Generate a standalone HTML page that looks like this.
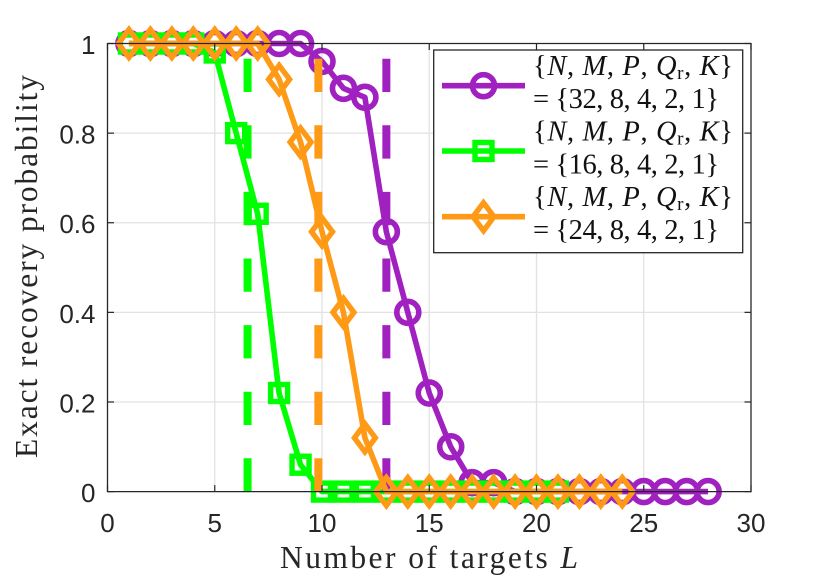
<!DOCTYPE html>
<html>
<head>
<meta charset="utf-8">
<style>
html,body{margin:0;padding:0;background:#fff;}
svg{display:block;}
.tick{font-family:"Liberation Sans",sans-serif;font-size:26px;fill:#262626;}
.lab{font-family:"Liberation Serif",serif;font-size:31.5px;fill:#262626;}
.leg{font-family:"Liberation Serif",serif;font-size:28.5px;fill:#111;}
.leg .i{font-style:italic;}
</style>
</head>
<body>
<svg id="chart" width="830" height="581" viewBox="0 0 830 581" xmlns="http://www.w3.org/2000/svg">
  <g id="grid"></g>
  <g id="series"></g>
  <g id="axes"></g>
  <text class="lab" x="280" y="568" textLength="298" lengthAdjust="spacing">Number of targets <tspan font-style="italic">L</tspan></text>
  <text class="lab" transform="translate(37,458) rotate(-90)" x="0" y="0" textLength="383" lengthAdjust="spacing">Exact recovery probability</text>
  <g>
    <rect x="433.7" y="50" width="309" height="202.7" fill="#fff" stroke="#262626" stroke-width="1.3"/>
    <g id="legend-samples"></g>
    <text class="leg" x="533" y="75" textLength="200">{<tspan class="i">N</tspan>, <tspan class="i">M</tspan>, <tspan class="i">P</tspan>, <tspan class="i">Q</tspan><tspan font-size="19" dy="4">r</tspan><tspan dy="-4">, </tspan><tspan class="i">K</tspan>}</text>
    <text class="leg" x="533" y="108" textLength="186">= {32, 8, 4, 2, 1}</text>
    <text class="leg" x="533" y="140.5" textLength="200">{<tspan class="i">N</tspan>, <tspan class="i">M</tspan>, <tspan class="i">P</tspan>, <tspan class="i">Q</tspan><tspan font-size="19" dy="4">r</tspan><tspan dy="-4">, </tspan><tspan class="i">K</tspan>}</text>
    <text class="leg" x="533" y="173.5" textLength="186">= {16, 8, 4, 2, 1}</text>
    <text class="leg" x="533" y="206" textLength="200">{<tspan class="i">N</tspan>, <tspan class="i">M</tspan>, <tspan class="i">P</tspan>, <tspan class="i">Q</tspan><tspan font-size="19" dy="4">r</tspan><tspan dy="-4">, </tspan><tspan class="i">K</tspan>}</text>
    <text class="leg" x="533" y="239" textLength="186">= {24, 8, 4, 2, 1}</text>
  </g>
</svg>
<script>
const xTicks = [0, 5, 10, 15, 20, 25, 30];
const yTicks = [0, 0.2, 0.4, 0.6, 0.8, 1];
const xTickLabels = ['0', '5', '10', '15', '20', '25', '30'];
const yTickLabels = ['0', '0.2', '0.4', '0.6', '0.8', '1'];
const targetsPurple = [1,2,3,4,5,6,7,8,9,10,11,12,13,14,15,16,17,18,19,20,21,22,23,24,25,26,27,28];
const valuesPurple = [1,1,1,1,1,1,1,1,1,0.96,0.9,0.88,0.58,0.4,0.22,0.1,0.02,0.02,0,0,0,0,0,0,0,0,0,0];
const targetsGreen = [1,2,3,4,5,6,7,8,9,10,11,12,13,14,15,16,17,18,19,20,21];
const valuesGreen = [1,1,1,1,0.98,0.8,0.62,0.22,0.06,0,0,0,0,0,0,0,0,0,0,0,0];
const targetsOrange = [1,2,3,4,5,6,7,8,9,10,11,12,13,14,15,16,17,18,19,20,21,22,23,24];
const valuesOrange = [1,1,1,1,1,1,1,0.92,0.78,0.58,0.4,0.12,0,0,0,0,0,0,0,0,0,0,0,0];
const boundGreen = 6.53;
const boundOrange = 9.83;
const boundPurple = 13;

const PURPLE = '#a020c0', GREEN = '#00ff00', ORANGE = '#ff9a16', INK = '#262626', GRID = '#e2e2e2';
const L = 107.5, R = 751, T = 43.5, B = 491.6;
const xScale = v => L + (v / 30) * (R - L);
const yScale = v => B - v * (B - T);
const NS = 'http://www.w3.org/2000/svg';
function make(parent, tag, attrs) {
  const el = document.createElementNS(NS, tag);
  for (const k in attrs) el.setAttribute(k, attrs[k]);
  parent.appendChild(el);
  return el;
}
function seg(parent, x1, y1, x2, y2, color, w) {
  return make(parent, 'line', {x1, y1, x2, y2, stroke: color, 'stroke-width': w});
}
function marker(parent, kind, cx, cy, color) {
  let el;
  if (kind === 'circle') {
    el = make(parent, 'circle', {cx, cy, r: 11, fill: 'none', stroke: color, 'stroke-width': 5.6});
  } else if (kind === 'square') {
    el = make(parent, 'rect', {x: cx - 8.5, y: cy - 8.5, width: 17, height: 17, fill: 'none', stroke: color, 'stroke-width': 5.4});
  } else {
    const pts = [[cx, cy - 14], [cx + 10.5, cy], [cx, cy + 14], [cx - 10.5, cy]].map(p => p.join(',')).join(' ');
    el = make(parent, 'polygon', {points: pts, fill: 'none', stroke: color, 'stroke-width': 5.4, 'stroke-linejoin': 'miter'});
  }
  return el;
}

const gridG = document.getElementById('grid');
xTicks.forEach(t => {
  if (t === 0 || t === 30) return;
  const g = seg(gridG, xScale(t), T, xScale(t), B, GRID, 1.3);
  
  
});
yTicks.forEach(t => {
  if (t === 0 || t === 1) return;
  const g = seg(gridG, L, yScale(t), R, yScale(t), GRID, 1.3);
  
  
});

const axesG = document.getElementById('axes');
const frame = make(axesG, 'path', {d: 'M' + L + ' ' + T + 'H' + R + 'V' + B + 'H' + L + 'Z', fill: 'none', stroke: INK, 'stroke-width': 1.3});


xTicks.forEach((t, i) => {
  const a = seg(axesG, xScale(t), B, xScale(t), B - 6.5, INK, 1.2);
  
  
  const b = seg(axesG, xScale(t), T, xScale(t), T + 6.5, INK, 1.2);
  
  
  const lab = make(axesG, 'text', {x: xScale(t), y: 532, 'text-anchor': 'middle', class: 'tick'});
  lab.textContent = xTickLabels[i];
  
  
});
yTicks.forEach((t, i) => {
  const a = seg(axesG, L, yScale(t), L + 6.5, yScale(t), INK, 1.2);
  
  
  const b = seg(axesG, R, yScale(t), R - 6.5, yScale(t), INK, 1.2);
  
  
  const lab = make(axesG, 'text', {x: 95.5, y: yScale(t) + 10.5, 'text-anchor': 'end', class: 'tick'});
  lab.textContent = yTickLabels[i];
  
  
});

const seriesG = document.getElementById('series');
function drawSeries(name, xs, ys, color, kind) {
  const g = make(seriesG, 'g', {});
  
  
  const pts = xs.map((x, i) => xScale(x) + ',' + yScale(ys[i])).join(' ');
  const line = make(g, 'polyline', {points: pts, fill: 'none', stroke: color, 'stroke-width': 5.6, 'stroke-linejoin': 'round'});
  
  
  xs.forEach((x, i) => {
    const m = marker(g, kind, xScale(x), yScale(ys[i]), color);
    
    
  });
}
function drawBound(name, v, color) {
  const d = seg(seriesG, xScale(v), B, xScale(v), T, color, 8);
  d.setAttribute('stroke-dasharray', '33.3 33.3');
  
  
}
drawSeries('purple', targetsPurple, valuesPurple, PURPLE, 'circle');
drawSeries('green', targetsGreen, valuesGreen, GREEN, 'square');
drawBound('purple', boundPurple, PURPLE);
drawBound('green', boundGreen, GREEN);
drawBound('orange', boundOrange, ORANGE);
drawSeries('orange', targetsOrange, valuesOrange, ORANGE, 'diamond');

const legG = document.getElementById('legend-samples');
[[85.7, PURPLE, 'circle', 'purple'], [151, GREEN, 'square', 'green'], [216.7, ORANGE, 'diamond', 'orange']].forEach(e => {
  const l = seg(legG, 442, e[0], 525, e[0], e[1], 5.6);
  
  
  const m = marker(legG, e[2], 483.5, e[0], e[1]);
  
  
});
</script>
</body>
</html>
